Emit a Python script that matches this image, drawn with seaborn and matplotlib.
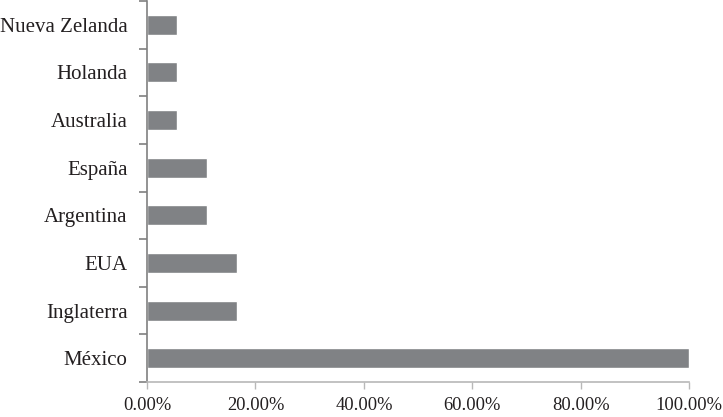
import numpy as np
import pandas as pd
import matplotlib
matplotlib.use("Agg")
import matplotlib.pyplot as plt
import seaborn as sns
from matplotlib.ticker import FixedLocator, FuncFormatter

# Data (share of mentions per country)
countries = ["Nueva Zelanda", "Holanda", "Australia", "España",
             "Argentina", "EUA", "Inglaterra", "México"]
shares = [5.56, 5.56, 5.56, 11.11, 11.11, 16.67, 16.67, 100.0]
x_ticks = [0, 20, 40, 60, 80, 100]

df = pd.DataFrame({"Pais": countries, "Porcentaje": shares})

sns.set_style("white")
plt.rcParams["font.family"] = ["Liberation Serif", "DejaVu Serif"]

fig = plt.figure(figsize=(7.23, 4.17), dpi=100)
ax = fig.add_axes([0.2033, 0.0839, 0.7501, 0.9137])

sns.barplot(data=df, y="Pais", x="Porcentaje", color="#808285",
            saturation=1, width=0.42, ax=ax, orient="h")

ax.set_xlim(0, 100)
ax.set_ylim(len(countries) - 0.5, -0.5)
ax.set_xticks(x_ticks)
ax.xaxis.set_major_formatter(FuncFormatter(lambda v, p: f"{v:.2f}%"))
ax.set_xlabel("")
ax.set_ylabel("")

# spines
for s in ["top", "right"]:
    ax.spines[s].set_visible(False)
ax.spines["left"].set_color("#808080")
ax.spines["left"].set_linewidth(1.2)
ax.spines["bottom"].set_color("#b8b8b8")
ax.spines["bottom"].set_linewidth(1.2)

# ticks: category boundaries on y, like Excel
ax.yaxis.set_minor_locator(FixedLocator(np.arange(-0.5, len(countries), 1)))
ax.tick_params(axis="y", which="major", length=0, pad=14, labelsize=15)
ax.tick_params(axis="y", which="minor", length=6, width=1.2, color="#808080", left=True)
ax.tick_params(axis="x", which="major", length=5, width=1.0, color="#b8b8b8",
               bottom=True, pad=6, labelsize=13.3)
ax.tick_params(which="both", labelcolor="#231f20")

fig.savefig("out.png", dpi=100)
